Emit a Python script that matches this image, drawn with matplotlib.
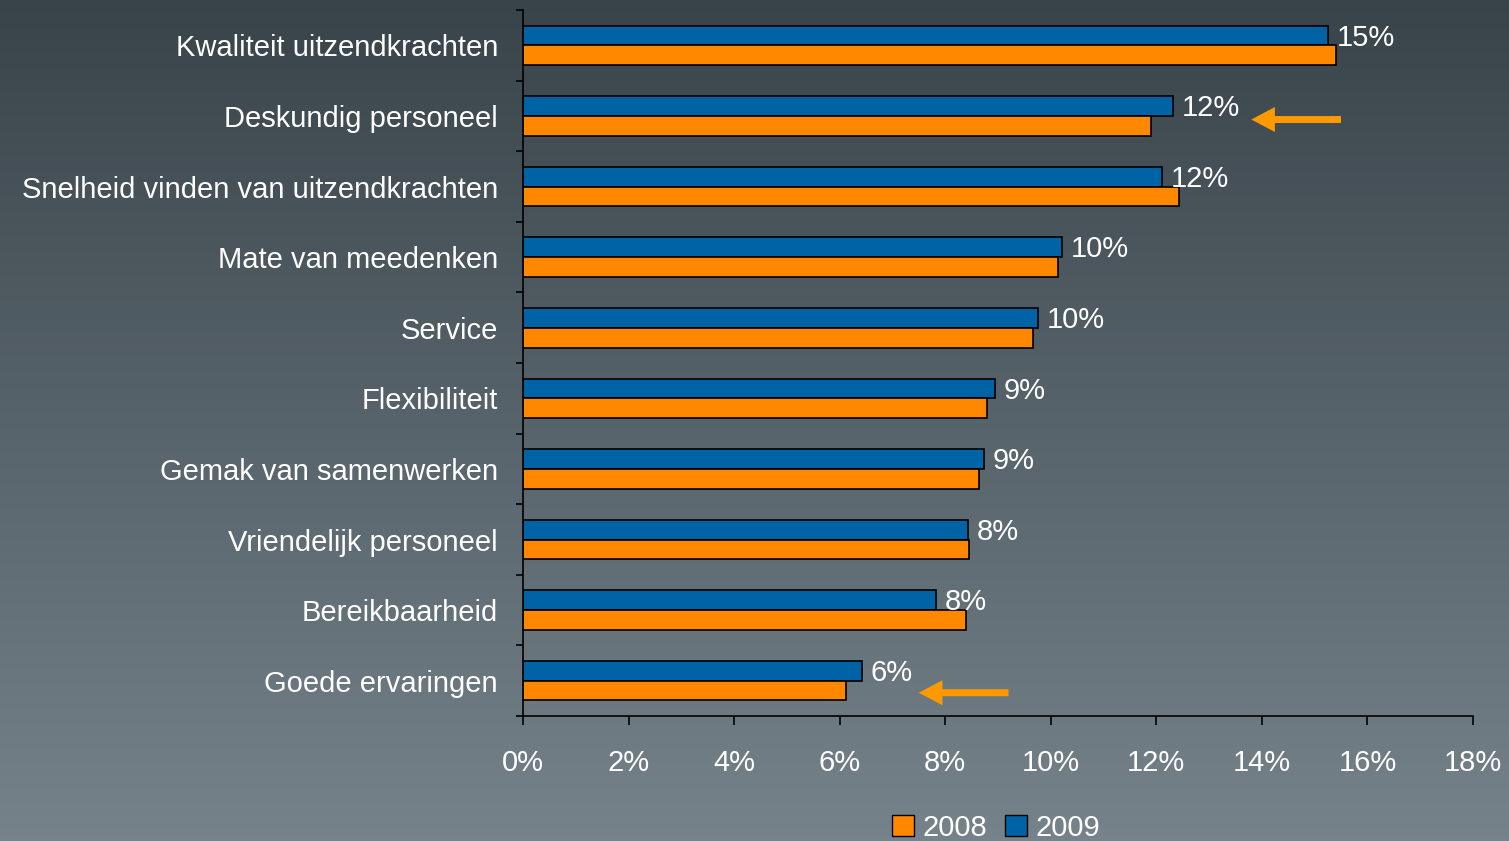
import numpy as np
import matplotlib
matplotlib.use("Agg")
import matplotlib.pyplot as plt
from matplotlib.patches import Patch
from matplotlib.colors import LinearSegmentedColormap

# Data (percentages)
categories = [
    "Kwaliteit uitzendkrachten",
    "Deskundig personeel",
    "Snelheid vinden van uitzendkrachten",
    "Mate van meedenken",
    "Service",
    "Flexibiliteit",
    "Gemak van samenwerken",
    "Vriendelijk personeel",
    "Bereikbaarheid",
    "Goede ervaringen",
]
values_2008 = [15.40, 11.90, 12.43, 10.14, 9.66, 8.79, 8.64, 8.45, 8.39, 6.12]
values_2009 = [15.25, 12.32, 12.11, 10.21, 9.76, 8.94, 8.73, 8.43, 7.82, 6.42]
labels_2009 = ["15%", "12%", "12%", "10%", "10%", "9%", "9%", "8%", "8%", "6%"]
x_ticks = [0, 2, 4, 6, 8, 10, 12, 14, 16, 18]
# arrows: (category index, y offset, tail x, head x)
arrows = [(1, 0.05, 15.5, 13.8), (9, 0.17, 9.2, 7.5)]

ORANGE = "#ff8800"
BLUE = "#0063a6"
ARROW = "#ff9900"
FONT = "Liberation Sans"
FS = 21

plt.rcParams["font.family"] = [FONT, "DejaVu Sans"]

fig = plt.figure(figsize=(15.09, 8.41), dpi=100)

# background gradient
bg = fig.add_axes([0, 0, 1, 1], zorder=-10)
cmap = LinearSegmentedColormap.from_list("bg", ["#39434a", "#76838b"])
bg.imshow(np.linspace(0, 1, 256).reshape(-1, 1), aspect="auto", cmap=cmap,
          extent=[0, 1, 0, 1], origin="upper")
bg.axis("off")

ax = fig.add_axes([0.3466, 0.1486, 0.6295, 0.8394])
ax.patch.set_alpha(0)

y = np.arange(len(categories))
h = 0.28
ax.barh(y - h / 2, values_2009, height=h, color=BLUE, edgecolor="black",
        linewidth=1.2, label="2009")
ax.barh(y + h / 2, values_2008, height=h, color=ORANGE, edgecolor="black",
        linewidth=1.2, label="2008")

for i, (v, lab) in enumerate(zip(values_2009, labels_2009)):
    ax.text(v + 0.17, i - h / 2 + 0.03, lab, color="white", fontsize=FS,
            va="center", ha="left")

for idx, dy, x0, x1 in arrows:
    ax.annotate("", xy=(x1, idx + dy), xytext=(x0, idx + dy),
                arrowprops=dict(width=5, headwidth=18, headlength=17,
                                color=ARROW, lw=0, shrink=0))

ax.set_xlim(0, 18)
ax.set_ylim(len(categories) - 0.5, -0.5)
ax.set_xticks(x_ticks)
ax.set_xticklabels([f"{t}%" for t in x_ticks], color="white", fontsize=FS)
ax.set_yticks(y)
ax.set_yticklabels(categories, color="white", fontsize=FS)
ax.set_yticks(np.arange(-0.5, len(categories), 1), minor=True)
ax.tick_params(axis="y", which="major", length=0, pad=18)
ax.tick_params(axis="y", which="minor", length=5, width=1.2, color="black",
               direction="out")
ax.tick_params(axis="x", length=6.5, width=1.2, color="black", pad=17.5)

for s in ["top", "right"]:
    ax.spines[s].set_visible(False)
for s in ["left", "bottom"]:
    ax.spines[s].set_color("black")
    ax.spines[s].set_linewidth(1.2)

handles = [Patch(facecolor=ORANGE, edgecolor="black", label="2008"),
           Patch(facecolor=BLUE, edgecolor="black", label="2009")]
leg = fig.legend(handles=handles, loc="center", bbox_to_anchor=(0.66, 0.016),
                 ncol=2, frameon=False, fontsize=FS, handlelength=0.75,
                 handleheight=0.75, handletextpad=0.3, columnspacing=0.6,
                 borderaxespad=0)
for t in leg.get_texts():
    t.set_color("white")

fig.savefig("out.png", dpi=100)
